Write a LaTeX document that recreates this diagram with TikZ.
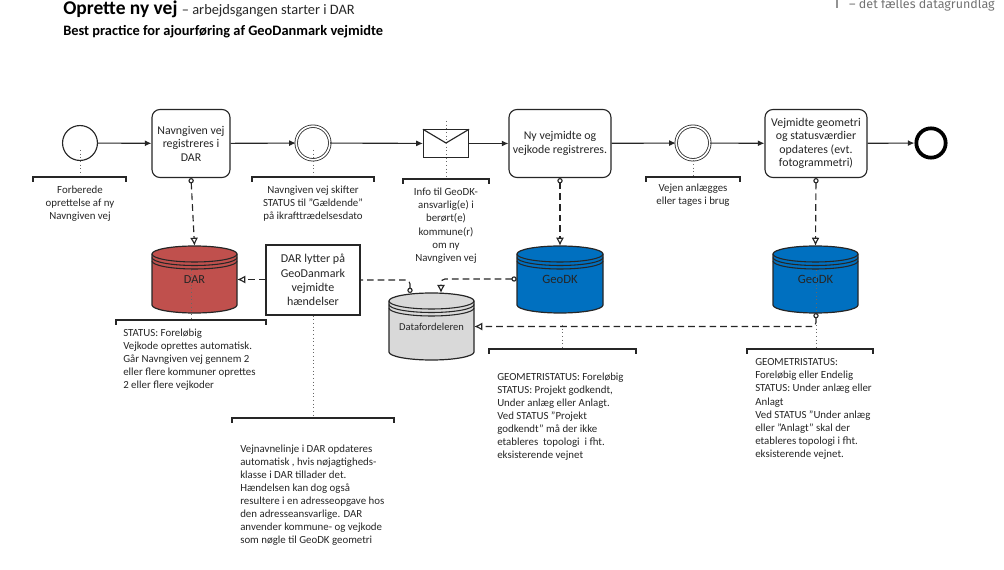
\documentclass[tikz,border=0pt]{standalone}
\usepackage{fontspec}
\setmainfont{Carlito}
\newfontfamily\logofont{Fira Sans}
\usetikzlibrary{arrows.meta,calc}
\definecolor{ink}{HTML}{262626}
\definecolor{darred}{HTML}{C0504D}
\definecolor{geoblue}{HTML}{0070C0}
\definecolor{dfgray}{HTML}{D9D9D9}
\tikzset{
  x=0.75pt,y=0.75pt,
  taskbox/.style={draw=ink,line width=0.85pt,rounded corners=6pt,fill=white,inner sep=0pt,align=center,font=\fontsize{8.9}{10.1}\selectfont,text=ink},
  evt/.style={circle,draw=ink,line width=0.85pt,fill=white,minimum size=26pt,inner sep=0pt},
  evtdouble/.style={evt,double=white,double distance=1.3pt,line width=0.6pt,minimum size=25.2pt},
  evtend/.style={circle,draw=black,line width=2.8pt,fill=white,minimum size=22pt,inner sep=0pt},
  seq/.style={draw=ink,line width=0.85pt,-{Latex[length=5pt,width=4.5pt]}},
  msg/.style={draw=ink,line width=0.85pt,dash pattern=on 5pt off 3pt,rounded corners=3pt,{Circle[open,fill=white,length=4pt,width=4pt]}-{Latex[open,fill=white,length=6pt,width=6pt]}},
  msgplain/.style={draw=ink,line width=0.85pt,dash pattern=on 5pt off 3pt,rounded corners=3pt,{Circle[open,fill=white,length=4pt,width=4pt]}-},
  msghead/.style={draw=ink,line width=0.85pt,dash pattern=on 5pt off 3pt,-{Latex[open,fill=white,length=6pt,width=6pt]}},
  assoc/.style={draw=ink!70,line width=0.75pt,dotted},
  bracket/.style={draw=ink,line width=0.8pt},
  note/.style={font=\fontsize{8.15}{9.8}\selectfont,text=ink,inner sep=0pt},
  dbtext/.style={font=\fontsize{8.6}{10}\selectfont,text=ink,inner sep=0pt},
  dbanchor/.style={rectangle,inner sep=0pt},
}
% name, left x, right x, top y, bottom y, colour, label, label style
\newcommand{\dbshape}[8]{%
  \pgfmathsetmacro{\dbrx}{(#3-#2)/2}
  \pgfmathsetmacro{\dbT}{-(#4+8)}
  \pgfmathsetmacro{\dbB}{-(#5-8)}
  \pgfmathsetmacro{\dbmid}{-(#4+#5)/2}
  \pgfmathsetmacro{\dbcx}{(#2+#3)/2}
  \pgfmathsetmacro{\dbw}{#3-#2}
  \pgfmathsetmacro{\dbh}{#5-#4}
  \draw[draw=ink,line width=0.9pt,fill=#6] (#2,\dbT) arc[start angle=180,end angle=0,x radius=\dbrx*0.75pt,y radius=6pt] -- (#3,\dbB) arc[start angle=360,end angle=180,x radius=\dbrx*0.75pt,y radius=6pt] -- cycle;
  \foreach \dboff in {0,3.5,7}{
    \draw[draw=ink,line width=0.8pt] (#2,\dbT-\dboff) arc[start angle=180,end angle=360,x radius=\dbrx*0.75pt,y radius=6pt];
  }
  \node[dbanchor,minimum width=\dbw*0.75pt,minimum height=\dbh*0.75pt] (#1) at (\dbcx,\dbmid) {};
  \node[dbtext,#8] (#1-label) at (\dbcx,\dbmid) {#7};
}
\begin{document}
\begin{tikzpicture}
\useasboundingbox (0,0) rectangle (1004,-570);
% header
\node[anchor=base west,inner sep=0pt,text=black,font=\fontsize{14.6}{18}\selectfont] (title) at (63,-15) {\textbf{Oprette ny vej} {\fontsize{10.8}{12}\selectfont\color{ink}– arbejdsgangen starter i DAR}};
\node[anchor=base west,inner sep=0pt,text=black,font=\fontsize{10.8}{12}\selectfont\bfseries] (subtitle) at (63,-36) {Best practice for ajourføring af GeoDanmark vejmidte};
\node[anchor=base east,inner sep=0pt,text=ink!65,font=\logofont\fontsize{9.4}{10}\selectfont] (logo) at (995,-9) {– det fælles datagrundlag};
\draw[ink!50,line width=0.9pt] (837,0) -- (837,-8);

% flow nodes
\node[evt,minimum size=26.2pt] (start) at (80,-143) {};
\node[taskbox,minimum width=58.5pt,minimum height=51pt] (t1) at (191,-143.5) {Navngiven vej\\registreres i\\DAR};
\node[evtdouble] (e2) at (313,-143) {};
\node[draw=ink,line width=0.85pt,fill=white,minimum width=33.8pt,minimum height=20.5pt,inner sep=0pt] (mail) at (446,-143.5) {};
\draw[ink,line width=0.85pt] (mail.north west) -- (mail.center |- 0,-143) -- (mail.north east);
\node[taskbox,minimum width=76.5pt,minimum height=51pt] (t2) at (560,-143.5) {Ny vejmidte og\\vejkode registreres.};
\node[evtdouble] (e3) at (693,-143) {};
\node[taskbox,minimum width=76.5pt,minimum height=51pt] (t3) at (816,-143.5) {Vejmidte geometri\\og statusværdier\\opdateres (evt.\\fotogrammetri)};
\node[evtend] (stop) at (931,-143) {};

\draw[seq] (start) -- (t1);
\draw[seq] (t1) -- (e2);
\draw[seq] (e2) -- (mail);
\draw[seq] (mail) -- (t2);
\draw[seq] (t2) -- (e3);
\draw[seq] (e3) -- (t3);
\draw[seq] (t3) -- (stop);

% data stores
\dbshape{dar}{152}{237}{246}{313}{darred}{DAR}{font=\fontsize{9.2}{11}\selectfont}
\dbshape{geo1}{517}{603}{246}{313}{geoblue}{GeoDK}{font=\fontsize{9.5}{11}\selectfont}
\dbshape{geo2}{773}{858}{246}{313}{geoblue}{GeoDK}{font=\fontsize{9.5}{11}\selectfont}
\dbshape{df}{389}{474}{293}{360}{dfgray}{Datafordeleren}{font=\fontsize{7.9}{9}\selectfont}

\node[draw=ink,line width=0.8pt,fill=white,minimum width=70.5pt,minimum height=52.5pt,inner sep=0pt,align=center,font=\fontsize{9}{10.7}\selectfont,text=ink] (lytter) at (313,-280) {DAR lytter på\\GeoDanmark\\vejmidte\\hændelser};

% bracket anchors
\coordinate (b1) at (80,-177);
\coordinate (b2) at (313,-177);
\coordinate (b3) at (446,-179);
\coordinate (b4) at (693,-177);
\coordinate (b5) at (191,-320);
\coordinate (b6) at (313,-418);
\coordinate (b7) at (562,-349);
\coordinate (b8) at (816,-349);

% message flows
\draw[msg] (t1.south) -- (dar.north);
\draw[msg] (t2.south) -- (geo1.north);
\draw[msg] (t3.south) -- (geo2.north);
\draw[msghead] (lytter.west |- dar.east) -- (dar.east);
\coordinate (dfin) at (410,-293);
\coordinate (dfout) at (441,-293);
\draw[msgplain] (dfin) -- (410,-280) -- (lytter.east |- 0,-280);
\draw[msg] (geo1.west |- 0,-279) -- (441,-279) -- (dfout);
\coordinate (g2out) at (816,-313);
\draw[msg] (g2out) -- (816,-326.5) -- (df.east |- 0,-326.5);

% associations
\draw[assoc] (80,-150) -- (b1);
\draw[assoc] (313,-150) -- (b2);
\draw[assoc] (446,-121) -- (b3);
\draw[assoc] (e3.south) -- (b4);
\draw[assoc] (191,-270) -- (b5);
\draw[assoc] (lytter.south) -- (b6);
\draw[assoc] (562,-325) -- (b7);
\draw[assoc] (816,-270) -- (b8);

% brackets
\draw[bracket] (33,-182) -- (33,-177) -- (126,-177) -- (126,-182);
\draw[bracket] (252,-182) -- (252,-177) -- (374,-177) -- (374,-182);
\draw[bracket] (403,-184) -- (403,-179) -- (489,-179) -- (489,-184);
\draw[bracket] (646,-182) -- (646,-177) -- (740,-177) -- (740,-182);
\draw[bracket] (116,-325) -- (116,-320) -- (266,-320) -- (266,-325);
\draw[bracket] (232,-423) -- (232,-418) -- (394,-418) -- (394,-423);
\draw[bracket] (489,-354) -- (489,-349) -- (636,-349) -- (636,-354);
\draw[bracket] (747,-354) -- (747,-349) -- (873,-349) -- (873,-354);

% notes
\node[note,align=center,anchor=north] (n1) at (80,-185.5) {Forberede\\oprettelse af ny\\Navngiven vej};
\node[note,align=center,anchor=north] (n2) at (313,-185.5) {Navngiven vej skifter\\STATUS til ”Gældende”\\på ikrafttrædelsesdato};
\node[note,align=center,anchor=north] (n3) at (446,-188) {Info til GeoDK-\\ansvarlig(e) i\\berørt(e)\\kommune(r)\\om ny\\Navngiven vej};
\node[note,align=center,anchor=north] (n4) at (693,-184) {Vejen anlægges\\eller tages i brug};
\node[note,align=left,anchor=north west] (n5) at (123,-328.5) {STATUS: Foreløbig\\Vejkode oprettes automatisk.\\Går Navngiven vej gennem 2\\eller flere kommuner oprettes\\2 eller flere vejkoder};
\node[note,align=left,anchor=north west] (n6) at (240,-444.5) {Vejnavnelinje i DAR opdateres\\automatisk , hvis nøjagtigheds-\\klasse i DAR tillader det.\\Hændelsen kan dog også\\resultere i en adresseopgave hos\\den adresseansvarlige. DAR\\anvender kommune- og vejkode\\som nøgle til GeoDK geometri};
\node[note,align=left,anchor=north west] (n7) at (497,-372.5) {GEOMETRISTATUS: Foreløbig\\STATUS: Projekt godkendt,\\Under anlæg eller Anlagt.\\Ved STATUS ”Projekt\\godkendt” må der ikke\\etableres\ \ topologi\ \ i fht.\\eksisterende vejnet};
\node[note,align=left,anchor=north west] (n8) at (755,-358.5) {GEOMETRISTATUS:\\Foreløbig eller Endelig\\STATUS: Under anlæg eller\\Anlagt\\Ved STATUS ”Under anlæg\\eller ”Anlagt” skal der\\etableres topologi i fht.\\eksisterende vejnet.};
\end{tikzpicture}
\end{document}
